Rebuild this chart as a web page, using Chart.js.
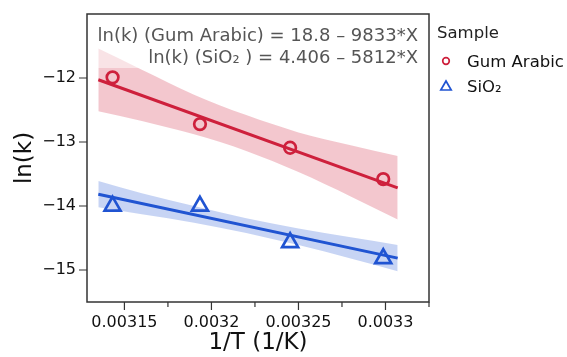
<!DOCTYPE html>
<html><head><meta charset="utf-8">
<script src="https://cdn.jsdelivr.net/npm/chart.js@4.4.1/dist/chart.umd.min.js"></script>
<style>html,body{margin:0;padding:0;background:#fff;}#wrap{width:567px;height:357px;}</style>
</head><body><div id="wrap"><canvas id="c" width="567" height="357"></canvas></div>
<script>
// ---- data ----
const invT = [0.0031432, 0.0031934, 0.0032452, 0.0032987];
const lnkGum = [-11.99, -12.72, -13.09, -13.58];
const lnkSiO2 = [-14.00, -14.00, -14.57, -14.82];
const fitX = [0.003135, 0.003307];
const fitGum = [-12.027, -13.718];
const fitSiO2 = [-13.815, -14.814];
const bandX = [0.003135, 0.00316, 0.00319, 0.00322, 0.00325, 0.00328, 0.003307];
const gumUpper = [-11.54, -11.87, -12.26, -12.58, -12.85, -13.05, -13.22];
const gumLower = [-12.52, -12.67, -12.88, -13.14, -13.47, -13.85, -14.21];
const sio2Upper = [-13.61, -13.80, -14.00, -14.19, -14.35, -14.49, -14.61];
const sio2Lower = [-14.02, -14.13, -14.26, -14.42, -14.61, -14.82, -15.02];
const xMajorTicks = [0.00315, 0.0032, 0.00325, 0.0033];
const xTickLabels = ['0.00315', '0.0032', '0.00325', '0.0033'];
const xMinorTicks = [0.003175, 0.003225, 0.003275, 0.003325];
const yTicks = [-12, -13, -14, -15];
const yTickLabels = ['\u221212', '\u221213', '\u221214', '\u221215'];
const seriesNames = ['Gum Arabic', 'SiO\u2082'];
const legendTitle = 'Sample';
const equations = ['ln(k) (Gum Arabic) = 18.8 \u2013 9833*X', 'ln(k) (SiO\u2082 ) = 4.406 \u2013 5812*X'];
const xTitle = '1/T (1/K)';
const yTitle = 'ln(k)';

const RED = 'rgb(206,32,60)';
const BLUE = 'rgb(32,84,210)';
const RED_BAND = 'rgba(206,32,60,0.25)';
const BLUE_BAND = 'rgba(32,84,210,0.25)';
const FONT = '"DejaVu Sans", sans-serif';

const pts = (xs, ys) => xs.map((x, i) => ({x: x, y: ys[i]}));

const decor = {
  id: 'decor',
  afterDatasetsDraw(chart) {
    const ctx = chart.ctx, a = chart.chartArea;
    const xs = chart.scales.x, ys = chart.scales.y;
    ctx.save();
    // translucent box behind equations
    ctx.fillStyle = 'rgba(255,255,255,0.5)';
    ctx.fillRect(92, 18, 333, 50);
    ctx.fillStyle = '#555';
    ctx.font = '18px ' + FONT;
    ctx.textAlign = 'right';
    ctx.textBaseline = 'alphabetic';
    ctx.fillText(equations[0], 418, 40.5);
    ctx.fillText(equations[1], 418, 63);
    // frame
    ctx.strokeStyle = '#333';
    ctx.lineWidth = 1.5;
    ctx.strokeRect(a.left, a.top, a.right - a.left, a.bottom - a.top);
    // ticks
    ctx.lineWidth = 1.2;
    ctx.beginPath();
    xMajorTicks.forEach(v => { const p = xs.getPixelForValue(v); ctx.moveTo(p, a.bottom); ctx.lineTo(p, a.bottom + 8); });
    xMinorTicks.forEach(v => { const p = xs.getPixelForValue(v); ctx.moveTo(p, a.bottom); ctx.lineTo(p, a.bottom + 5); });
    yTicks.forEach(v => { const p = ys.getPixelForValue(v); ctx.moveTo(a.left, p); ctx.lineTo(a.left - 8, p); });
    ctx.stroke();
    // legend
    ctx.textAlign = 'left';
    ctx.fillStyle = '#222';
    ctx.font = '16.5px ' + FONT;
    ctx.fillText(legendTitle, 437, 38);
    ctx.fillStyle = '#111';
    ctx.fillText(seriesNames[0], 467, 67);
    ctx.fillText(seriesNames[1], 467, 92);
    ctx.lineWidth = 1.7;
    ctx.fillStyle = 'rgba(0,0,0,0)';
    ctx.strokeStyle = RED;
    Chart.helpers.drawPoint(ctx, {pointStyle: 'circle', radius: 3.3, rotation: 0, borderWidth: 1.7}, 446, 61);
    ctx.strokeStyle = BLUE;
    Chart.helpers.drawPoint(ctx, {pointStyle: 'triangle', radius: 6, rotation: 0, borderWidth: 1.7}, 446, 87);
    ctx.restore();
  }
};

new Chart(document.getElementById('c'), {
  type: 'scatter',
  data: {
    datasets: [
      {label: seriesNames[0], data: pts(invT, lnkGum), pointStyle: 'circle', pointRadius: 5.8, pointBorderWidth: 2.7,
       borderColor: RED, backgroundColor: 'rgba(0,0,0,0)', showLine: false, order: 0},
      {label: seriesNames[1], data: pts(invT, lnkSiO2), pointStyle: 'triangle', pointRadius: 9.2, pointBorderWidth: 2.7,
       borderColor: BLUE, backgroundColor: 'rgba(0,0,0,0)', showLine: false, order: 0},
      {data: pts(fitX, fitGum), showLine: true, borderColor: RED, borderWidth: 3, pointRadius: 0, order: 1},
      {data: pts(fitX, fitSiO2), showLine: true, borderColor: BLUE, borderWidth: 3, pointRadius: 0, order: 1},
      {data: pts(bandX, gumUpper), showLine: true, borderWidth: 0, borderColor: 'rgba(0,0,0,0)', pointRadius: 0,
       backgroundColor: RED_BAND, fill: '+1', cubicInterpolationMode: 'monotone', order: 2},
      {data: pts(bandX, gumLower), showLine: true, borderWidth: 0, borderColor: 'rgba(0,0,0,0)', pointRadius: 0,
       fill: false, cubicInterpolationMode: 'monotone', order: 2},
      {data: pts(bandX, sio2Upper), showLine: true, borderWidth: 0, borderColor: 'rgba(0,0,0,0)', pointRadius: 0,
       backgroundColor: BLUE_BAND, fill: '+1', cubicInterpolationMode: 'monotone', order: 2},
      {data: pts(bandX, sio2Lower), showLine: true, borderWidth: 0, borderColor: 'rgba(0,0,0,0)', pointRadius: 0,
       fill: false, cubicInterpolationMode: 'monotone', order: 2}
    ]
  },
  options: {
    responsive: false,
    animation: false,
    devicePixelRatio: 1,
    layout: {padding: {top: 14, right: 138, bottom: 0, left: 0}},
    plugins: {legend: {display: false}, tooltip: {enabled: false}},
    scales: {
      x: {
        type: 'linear', min: 0.0031285, max: 0.003325,
        afterBuildTicks: s => { s.ticks = xMajorTicks.map(v => ({value: v})); },
        afterFit: s => { s.height = 55; },
        ticks: {callback: (v, i) => xTickLabels[i], font: {family: FONT, size: 16}, color: '#111', padding: 3, maxRotation: 0, autoSkip: false},
        grid: {display: false, drawTicks: true, tickLength: 8},
        border: {display: false},
        title: {display: true, text: xTitle, font: {family: FONT, size: 23}, color: '#111', padding: {top: 0, bottom: 0}}
      },
      y: {
        type: 'linear', min: -15.5, max: -11,
        afterBuildTicks: s => { s.ticks = yTicks.map(v => ({value: v})); },
        afterFit: s => { s.width = 87; },
        ticks: {callback: (v, i) => yTickLabels[i], font: {family: FONT, size: 16}, color: '#111', padding: 3, autoSkip: false},
        grid: {display: false, drawTicks: true, tickLength: 8},
        border: {display: false},
        title: {display: true, text: yTitle, font: {family: FONT, size: 23}, color: '#111', padding: {top: 11, bottom: 0}}
      }
    }
  },
  plugins: [decor]
});
</script></body></html>
